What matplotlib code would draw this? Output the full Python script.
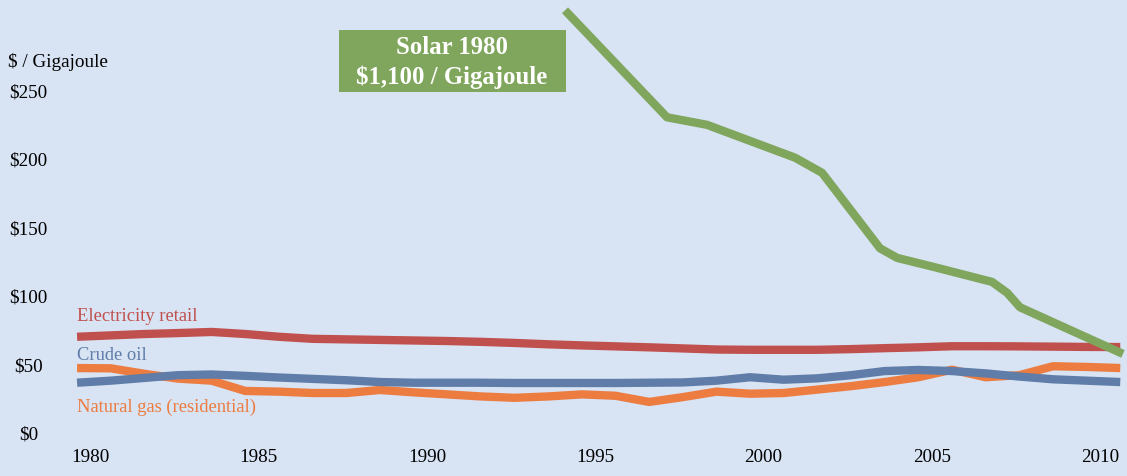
import matplotlib
matplotlib.use("Agg")
import matplotlib.pyplot as plt
from matplotlib.patches import Rectangle
import numpy as np

# energy prices, $ per gigajoule
years = list(range(1980, 2012))

electricity = [70.5, 71.5, 72.5, 73.2, 74, 72.5, 70.5, 69, 68.6, 68.2, 67.8, 67.4,
               66.8, 66, 65, 64.2, 63.5, 62.8, 62, 61.2, 61, 61, 61, 61.5, 62.2,
               62.8, 63.6, 63.6, 63.5, 63.3, 63.1, 63]
crude_oil = [37, 38.5, 40.5, 42.5, 43, 42, 40.8, 39.8, 38.8, 37.5, 37, 37, 37,
             36.8, 36.8, 36.8, 36.8, 37, 37.2, 38.5, 41, 39.2, 40.2, 42.5, 45.5,
             46.3, 45.5, 43.8, 41.5, 39.5, 38.5, 37.5]
natural_gas = [47.7, 47.5, 43.5, 40, 38.5, 31, 30.5, 29.5, 29.5, 31.7, 30, 28.5,
               27, 26, 27, 28.5, 27.5, 23, 26.5, 30.5, 29, 29.5, 32, 34.5, 37.5,
               41, 46.5, 41, 42.5, 49, 48.5, 47.7]

# solar drops in from off the top of the chart (1980 was $1,100)
solar_years = [1994.5, 1997.53, 1998.72, 2001.34, 2002.14, 2003.86, 2004.37,
               2005.44, 2007.19, 2007.64, 2008.02, 2011.08]
solar = [308.5, 230.5, 225, 201, 190, 135, 128, 121.5, 110.5, 102.5, 92, 58]

y_ticks = [0, 50, 100, 150, 200, 250]
x_tick_years = [1980, 1985, 1990, 1995, 2000, 2005, 2010]

bg = "#d8e3f3"
c_elec = "#c0504d"
c_oil = "#5f7da8"
c_gas = "#ec7c40"
c_solar = "#7fa65c"

plt.rcParams["font.family"] = ["Liberation Serif", "DejaVu Serif"]

W, H = 1127, 476
fig = plt.figure(figsize=(W / 100, H / 100), dpi=100, facecolor=bg)
ax = fig.add_axes([70 / W, (H - 445) / H, (W - 70) / W, 445 / H])
ax.set_facecolor(bg)
for s in ax.spines.values():
    s.set_visible(False)

lw = 6.0
for vals, col in [(electricity, c_elec), (natural_gas, c_gas), (crude_oil, c_oil)]:
    ax.plot(years, vals, color=col, lw=lw, solid_capstyle="butt", solid_joinstyle="round")
ax.plot(solar_years, solar, color=c_solar, lw=lw, solid_capstyle="butt",
        solid_joinstyle="round")

ax.set_xlim(1979.79, 2011.2)
ax.set_ylim(-8.4, 316)

ax.set_yticks(y_ticks)
ax.set_yticklabels([f"${v}" for v in y_ticks])
ax.set_xticks(np.array(x_tick_years) + 0.4)
ax.set_xticklabels([str(y) for y in x_tick_years])
ax.tick_params(axis="y", length=0, pad=30, labelsize=13.8)
ax.tick_params(axis="x", length=0, pad=3, labelsize=13.8)
for lab in ax.get_yticklabels():
    lab.set_ha("center")

# series labels
ax.text(years[0], 85.6, "Electricity retail", color=c_elec, fontsize=13.3, ha="left", va="center")
ax.text(years[0], 57.2, "Crude oil", color=c_oil, fontsize=13.3, ha="left", va="center")
ax.text(years[0], 19.3, "Natural gas (residential)", color=c_gas, fontsize=13.3, ha="left", va="center")

fig.text(8 / W, 1 - 62 / H, "$ / Gigajoule", fontsize=13.8, ha="left", va="center")

# green callout box
fig.patches.append(Rectangle((339 / W, 1 - 92 / H), 227 / W, 62 / H,
                             transform=fig.transFigure, facecolor=c_solar,
                             edgecolor="none", zorder=0))
fig.text(452 / W, 1 - 47 / H, "Solar 1980", color="white", fontsize=17.8,
         fontweight="bold", ha="center", va="center")
fig.text(452 / W, 1 - 77 / H, "$1,100 / Gigajoule", color="white", fontsize=17.8,
         fontweight="bold", ha="center", va="center")

fig.savefig("out.png", dpi=100, facecolor=bg)
